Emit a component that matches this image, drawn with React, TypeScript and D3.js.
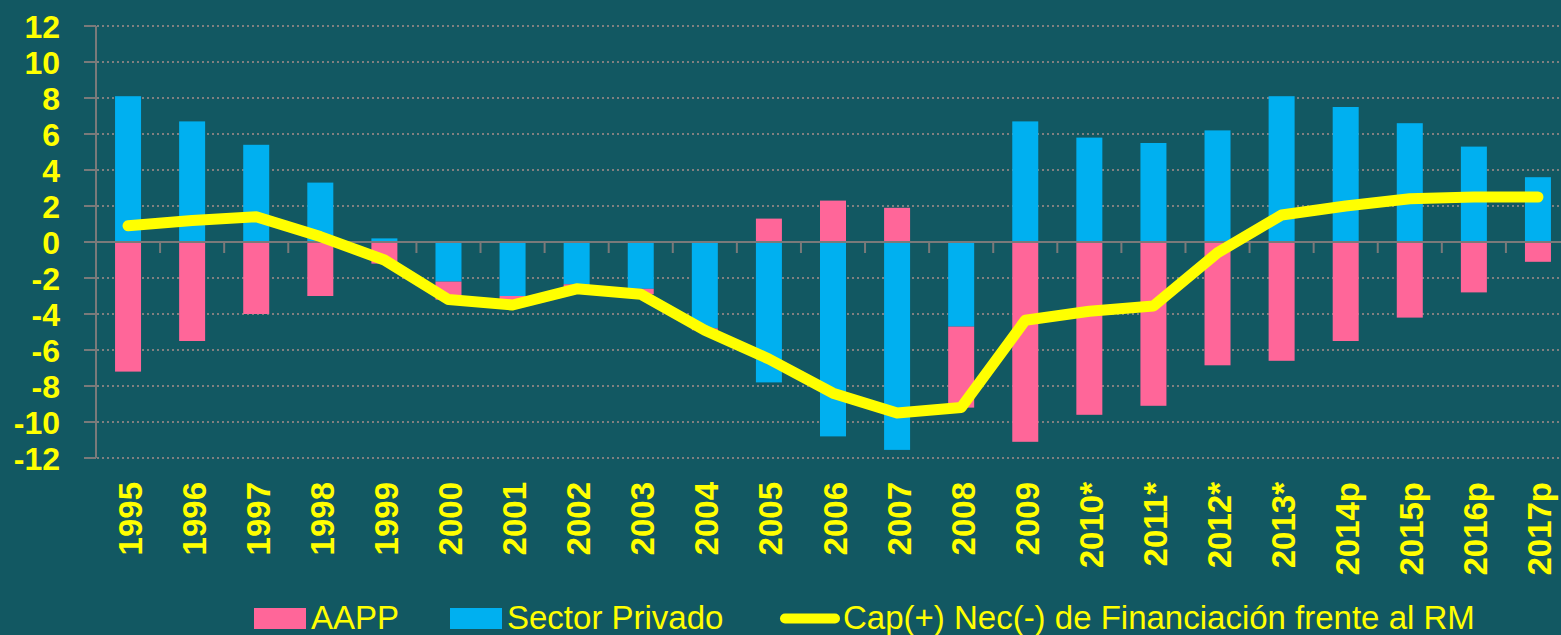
import React from "react";
import * as d3 from "d3";

const years = ["1995","1996","1997","1998","1999","2000","2001","2002","2003","2004","2005","2006","2007","2008","2009","2010*","2011*","2012*","2013*","2014p","2015p","2016p","2017p"];
const aapp = [-7.2,-5.5,-4.0,-3.0,-1.2,-1.0,-0.4,-0.15,-0.3,-0.1,1.3,2.3,1.9,-4.5,-11.1,-9.6,-9.1,-6.85,-6.6,-5.5,-4.2,-2.8,-1.1];
const privado = [8.1,6.7,5.4,3.3,0.2,-2.2,-3.0,-2.35,-2.6,-4.8,-7.8,-10.8,-11.55,-4.7,6.7,5.8,5.5,6.2,8.1,7.5,6.6,5.3,3.6];
const neto = [0.9,1.2,1.4,0.3,-1.0,-3.2,-3.5,-2.6,-2.9,-4.9,-6.5,-8.4,-9.5,-9.2,-4.35,-3.85,-3.55,-0.6,1.5,2.0,2.4,2.5,2.5];
const yTicks = [-12,-10,-8,-6,-4,-2,0,2,4,6,8,10,12];
const legendLabels = ["AAPP", "Sector Privado", "Cap(+) Nec(-) de Financiación frente al RM"];

const W = 1561, H = 635;
const BG = "#125862";
const PINK = "#ff6699";
const BLUE = "#00b0f0";
const YELLOW = "#ffff00";
const GRID = "#7a7a7a";

export default function App() {
  const x = d3.scaleBand<string>().domain(years).range([96, 1570]).padding(0);
  const y = d3.scaleLinear().domain([-12, 12]).range([458, 26]);
  const step = x.bandwidth();
  const barW = 26;
  const cx = (c: string) => (x(c) as number) + step / 2;

  const rows = years.map((c, i) => ({ c, privado: privado[i], aapp: aapp[i] }));
  const stack = d3.stack<any>().keys(["privado", "aapp"]).offset(d3.stackOffsetDiverging)(rows);
  const colors: Record<string, string> = { privado: BLUE, aapp: PINK };

  const line = d3.line<number>()
    .x((_, i) => cx(years[i]))
    .y((d) => y(d))
    .curve(d3.curveLinear);

  const font = "'Liberation Sans', Arial, sans-serif";

  return (
    <div style={{ position: "absolute", left: 0, top: 0 }}>
      <svg width={W} height={H} style={{ display: "block" }}>
        <rect x={0} y={0} width={W} height={H} fill={BG} />
        {yTicks.filter((t) => t !== 0).map((t) => (
          <line key={"g" + t} x1={97} x2={1570} y1={y(t)} y2={y(t)} stroke="#808080" strokeWidth={2} strokeDasharray="2 3" />
        ))}
        {yTicks.map((t) => (
          <line key={"t" + t} x1={84} x2={96} y1={y(t)} y2={y(t)} stroke={GRID} strokeWidth={2} />
        ))}
        {stack.map((s) => (
          <g key={s.key} fill={colors[s.key]}>
            {s.map((d, i) => {
              const y0 = y(d[0]), y1 = y(d[1]);
              return (
                <rect key={i} x={cx(years[i]) - barW / 2} width={barW} y={Math.min(y0, y1)} height={Math.abs(y1 - y0)} />
              );
            })}
          </g>
        ))}
        <line x1={96} x2={96} y1={y(12)} y2={y(-12)} stroke={GRID} strokeWidth={2} />
        <line x1={84} x2={1570} y1={y(0)} y2={y(0)} stroke={GRID} strokeWidth={2} />
        {years.slice(1).map((c) => (
          <line key={"xt" + c} x1={x(c) as number} x2={x(c) as number} y1={y(0)} y2={y(0) + 11} stroke={GRID} strokeWidth={2} />
        ))}
        <path d={line(neto) || ""} fill="none" stroke={YELLOW} strokeWidth={11} strokeLinecap="round" strokeLinejoin="round" />
        {yTicks.map((t) => (
          <text key={"yl" + t} x={60} y={y(t) + 11.5} textAnchor="end" fill={YELLOW} fontFamily={font} fontWeight="bold" fontSize={32}>
            {t}
          </text>
        ))}
        {years.map((c) => (
          <text key={"xl" + c} transform={`translate(${cx(c) + 13.5},482) rotate(-90)`} textAnchor="end" fill={YELLOW} fontFamily={font} fontWeight="bold" fontSize={33}>
            {c}
          </text>
        ))}
        <rect x={254} y={608} width={52} height={21} fill={PINK} />
        <text x={311} y={629} fill={YELLOW} fontFamily={font} fontSize={33}>{legendLabels[0]}</text>
        <rect x={450} y={608} width={52} height={21} fill={BLUE} />
        <text x={507} y={629} fill={YELLOW} fontFamily={font} fontSize={33}>{legendLabels[1]}</text>
        <line x1={785} x2={835} y1={618.5} y2={618.5} stroke={YELLOW} strokeWidth={10} strokeLinecap="round" />
        <text x={843} y={629} fill={YELLOW} fontFamily={font} fontSize={33}>{legendLabels[2]}</text>
      </svg>
    </div>
  );
}
